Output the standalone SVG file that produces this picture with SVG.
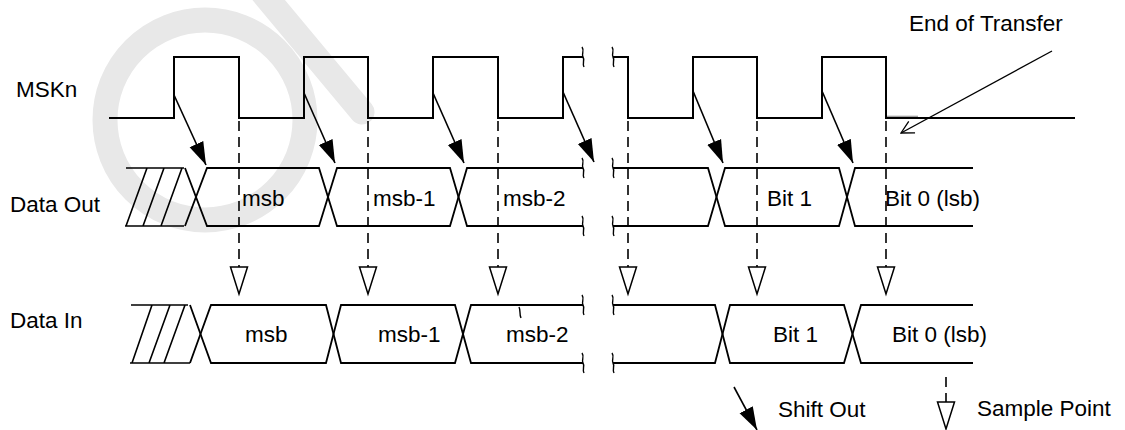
<svg xmlns="http://www.w3.org/2000/svg" xmlns:xlink="http://www.w3.org/1999/xlink" width="1125" height="430" viewBox="0 0 1125 430">
  <style>
    .wave { fill: none; stroke: #000; stroke-width: 2; stroke-linejoin: miter; }
    .bus { fill: none; stroke: #000; stroke-width: 1.8; }
    .hatch { fill: none; stroke: #000; stroke-width: 1.6; }
    .brk { fill: none; stroke: #000; stroke-width: 1.4; }
    .dash { fill: none; stroke: #000; stroke-width: 1.6; stroke-dasharray: 10 6; }
    .shift { fill: none; stroke: #000; stroke-width: 1.6; marker-end: url(#shiftHead); }
    .tri { fill: #fff; stroke: #000; stroke-width: 1.5; }
    .wm { fill: none; stroke: #e8e8e8; stroke-width: 25; stroke-linecap: round; }
    text { font-family: "Liberation Sans", Arial, sans-serif; font-size: 22.5px; fill: #000; }
  </style>
  <defs>
    <marker id="shiftHead" markerUnits="userSpaceOnUse" markerWidth="24" markerHeight="18" viewBox="0 0 24 18" refX="23" refY="9" orient="auto">
      <path d="M0,1.5 L23,9 L0,16.5 z" fill="#000"/>
    </marker>
    <marker id="openHead" markerUnits="userSpaceOnUse" markerWidth="16" markerHeight="16" viewBox="0 0 16 16" refX="1" refY="8" orient="auto">
      <path d="M13.4,1.4 L1,8 L13.4,14.6" fill="none" stroke="#000" stroke-width="1.3"/>
    </marker>
    <path id="squig" class="brk" d="M-1,-10 C2,-6 -2,-3 0,0 C2,3 -1,6 1,10"/>
    <polygon id="sampleTri" class="tri" points="-8.5,0 8.5,0 0,27"/>
  </defs>

  <rect width="1125" height="430" fill="#fff"/>

  <g id="watermark">
    <circle class="wm" cx="205" cy="120" r="100"/>
    <line class="wm" x1="262" y1="-8" x2="362" y2="112"/>
  </g>

  <g id="MSKn">
    <text x="16" y="97">MSKn</text>
    <path class="wave" d="M109,118 H174 V57 H239 V118 H304 V57 H368 V118 H433 V57 H498 V118 H563 V57 H583"/>
    <path class="wave" d="M613,57 H628 V118 H693 V57 H757 V118 H822 V57 H886 V118 H1075"/>
    <line x1="887" y1="116.3" x2="918" y2="116.3" stroke="#999" stroke-width="1.2"/>
    <use xlink:href="#squig" x="583" y="57"/>
    <use xlink:href="#squig" x="613" y="57"/>
  </g>

  <g id="DataOut">
    <text x="10" y="212">Data Out</text>
    <path class="hatch" d="M126,168 H184 M125,226 H184 M126,226 L147,168 M143,226 L164,168 M161,226 L182,168"/>
    <path class="bus" d="M185,168 L207,226 H319 L337,168 H450 L467,226 H583"/>
    <path class="bus" d="M185,226 L207,168 H319 L337,226 H450 L467,168 H583"/>
    <path class="bus" d="M613,168 H708 L725,226 H839 L855,168 H973"/>
    <path class="bus" d="M613,226 H708 L725,168 H839 L855,226 H973"/>
    <use xlink:href="#squig" x="583" y="168"/>
    <use xlink:href="#squig" x="583" y="226"/>
    <use xlink:href="#squig" x="613" y="168"/>
    <use xlink:href="#squig" x="613" y="226"/>
    <text x="242" y="206">msb</text>
    <text x="373" y="206">msb-1</text>
    <text x="503" y="206">msb-2</text>
    <text x="767" y="206">Bit 1</text>
    <text x="885" y="206">Bit 0 (lsb)</text>
  </g>

  <g id="DataIn">
    <text x="10" y="328">Data In</text>
    <path class="hatch" d="M131,305 H188 M130,363 H190 M132,363 L152,305 M149,363 L170,305 M164,363 L185,305"/>
    <path class="bus" d="M190,305 L211,363 H326 L341,305 H455 L471,363 H583"/>
    <path class="bus" d="M190,363 L211,305 H326 L341,363 H455 L471,305 H583"/>
    <path class="bus" d="M613,305 H715 L730,363 H844 L861,305 H973"/>
    <path class="bus" d="M613,363 H715 L730,305 H844 L861,363 H973"/>
    <use xlink:href="#squig" x="583" y="305"/>
    <use xlink:href="#squig" x="583" y="363"/>
    <use xlink:href="#squig" x="613" y="305"/>
    <use xlink:href="#squig" x="613" y="363"/>
    <path class="brk" d="M519,307 C521,311 519,314 521,318"/>
    <text x="245" y="342">msb</text>
    <text x="378" y="342">msb-1</text>
    <text x="506" y="342">msb-2</text>
    <text x="773" y="342">Bit 1</text>
    <text x="892" y="342">Bit 0 (lsb)</text>
  </g>

  <g id="connectors">
    <line class="shift" x1="174" y1="95" x2="206" y2="165"/>
    <line class="shift" x1="304" y1="93" x2="335" y2="163"/>
    <line class="shift" x1="433" y1="93" x2="464" y2="163"/>
    <line class="shift" x1="563" y1="92" x2="594" y2="162"/>
    <line class="shift" x1="693" y1="91" x2="723" y2="163"/>
    <line class="shift" x1="822" y1="91" x2="853" y2="163"/>

    <path class="dash" d="M239,121 V268 M368,121 V268 M498,121 V268 M628,121 V268 M757,121 V268 M886,121 V268"/>
    <use xlink:href="#sampleTri" x="239" y="267"/>
    <use xlink:href="#sampleTri" x="368" y="267"/>
    <use xlink:href="#sampleTri" x="498" y="267"/>
    <use xlink:href="#sampleTri" x="628" y="267"/>
    <use xlink:href="#sampleTri" x="757" y="267"/>
    <use xlink:href="#sampleTri" x="886" y="267"/>

    <line x1="901" y1="133" x2="1052" y2="51" stroke="#000" stroke-width="1.4" marker-start="url(#openHead)"/>
  </g>

  <g id="end-of-transfer">
    <text x="909" y="31">End of Transfer</text>
  </g>

  <g id="legend">
    <line class="shift" x1="734" y1="387" x2="757" y2="430"/>
    <text x="778" y="417">Shift Out</text>
    <path class="dash" d="M946,377 V403"/>
    <use xlink:href="#sampleTri" x="946" y="402"/>
    <text x="977" y="416">Sample Point</text>
  </g>
</svg>
